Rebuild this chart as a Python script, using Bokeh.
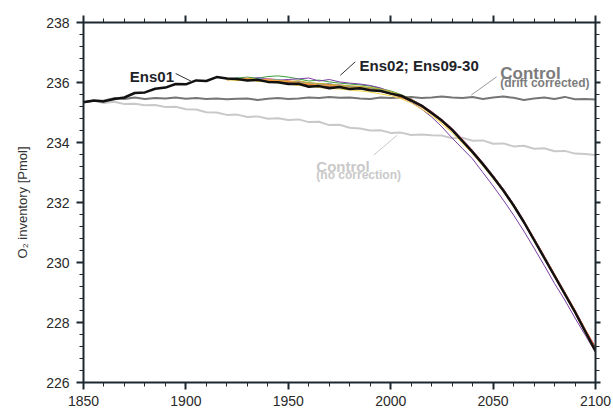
from bokeh.plotting import figure
from bokeh.models import Range1d, LinearAxis, SingleIntervalTicker, ColumnDataSource
from bokeh.core.properties import value, field
from bokeh.embed import file_html
from bokeh.resources import INLINE

# ---------------- data ----------------
years = list(range(1850, 2101, 5))
ens_years = list(range(1920, 2101, 5))

ctrl_nc = [235.35, 235.39, 235.32, 235.36, 235.28, 235.29, 235.24, 235.25, 235.18, 235.19,
           235.11, 235.10, 235.01, 235.00, 234.92, 234.93, 234.85, 234.87, 234.79, 234.81,
           234.75, 234.77, 234.68, 234.69, 234.58, 234.59, 234.49, 234.47, 234.40, 234.41,
           234.32, 234.33, 234.25, 234.27, 234.24, 234.23, 234.14, 234.16, 234.06, 234.07,
           233.96, 233.97, 233.87, 233.89, 233.79, 233.81, 233.71, 233.72, 233.63, 233.62,
           233.58]

ctrl_dc = [235.35, 235.38, 235.40, 235.48, 235.45, 235.50, 235.45, 235.48, 235.47, 235.50,
           235.46, 235.48, 235.45, 235.47, 235.44, 235.46, 235.47, 235.42, 235.46, 235.48,
           235.45, 235.47, 235.50, 235.48, 235.52, 235.49, 235.50, 235.47, 235.45, 235.50,
           235.48, 235.50, 235.52, 235.48, 235.50, 235.53, 235.50, 235.48, 235.52, 235.45,
           235.50, 235.53, 235.49, 235.42, 235.47, 235.50, 235.45, 235.52, 235.44, 235.45,
           235.43]

ens01 = [235.34, 235.40, 235.37, 235.45, 235.50, 235.65, 235.67, 235.79, 235.83, 235.95,
         235.94, 236.07, 236.05, 236.18, 236.13, 236.12, 236.07, 236.09, 236.02, 236.01,
         235.95, 235.96, 235.86, 235.88, 235.81, 235.85, 235.78, 235.81, 235.74, 235.72,
         235.63, 235.56, 235.40, 235.23, 234.98, 234.73, 234.42, 234.05, 233.68, 233.28,
         232.85, 232.40, 231.90, 231.35, 230.75, 230.15, 229.55, 228.95, 228.35, 227.70,
         227.05]

ens_green = [236.12, 236.15, 236.18, 236.14, 236.20, 236.22, 236.18, 236.12, 236.05, 236.08,
             236.02, 235.98, 235.95, 235.92, 235.88, 235.80, 235.72, 235.60, 235.45, 235.25,
             235.02, 234.75, 234.45, 234.10, 233.72, 233.30, 232.88, 232.42, 231.93, 231.38,
             230.80, 230.20, 229.60, 229.00, 228.38, 227.75, 227.12]
ens_purple = [236.12, 236.14, 236.10, 236.16, 236.12, 236.08, 236.10, 236.12, 236.15, 236.05,
              236.10, 236.02, 235.98, 235.95, 235.90, 235.82, 235.68, 235.52, 235.35, 235.12,
              234.85, 234.52, 234.15, 233.80, 233.45, 233.00, 232.55, 232.08, 231.58, 231.05,
              230.48, 229.90, 229.30, 228.75, 228.15, 227.58, 227.00]
ens_red = [236.10, 236.12, 236.08, 236.11, 236.06, 236.03, 236.00, 235.98, 235.92, 235.95,
           235.88, 235.86, 235.85, 235.83, 235.80, 235.74, 235.66, 235.56, 235.44, 235.25,
           235.02, 234.75, 234.46, 234.10, 233.72, 233.32, 232.90, 232.45, 231.95, 231.40,
           230.82, 230.22, 229.62, 229.02, 228.42, 227.78, 227.18]
ens_orange = [236.08, 236.11, 236.13, 236.09, 236.10, 236.06, 236.03, 236.00, 235.96, 235.92,
              235.90, 235.88, 235.84, 235.85, 235.78, 235.73, 235.66, 235.55, 235.40, 235.20,
              234.98, 234.70, 234.40, 234.03, 233.66, 233.26, 232.84, 232.38, 231.88, 231.33,
              230.74, 230.14, 229.54, 228.93, 228.32, 227.68, 227.02]
ens_orange2 = [236.14, 236.09, 236.12, 236.05, 236.08, 236.04, 236.06, 235.98, 235.94, 235.90,
               235.93, 235.86, 235.82, 235.80, 235.79, 235.70, 235.62, 235.50, 235.38, 235.18,
               234.95, 234.68, 234.38, 234.02, 233.64, 233.25, 232.82, 232.37, 231.87, 231.32,
               230.73, 230.12, 229.52, 228.91, 228.30, 227.66, 227.00]
ens_yellow = [236.10, 236.06, 236.08, 236.04, 236.02, 235.98, 235.95, 235.90, 235.88, 235.83,
              235.80, 235.78, 235.75, 235.72, 235.68, 235.62, 235.56, 235.46, 235.32, 235.12,
              234.90, 234.62, 234.33, 233.98, 233.62, 233.22, 232.80, 232.36, 231.86, 231.32,
              230.74, 230.15, 229.56, 228.97, 228.38, 227.74, 227.10]
ens_blue = [236.11, 236.13, 236.10, 236.08, 236.11, 236.05, 236.02, 236.04, 235.97, 235.94,
            235.96, 235.90, 235.87, 235.84, 235.82, 235.76, 235.68, 235.57, 235.43, 235.23,
            235.00, 234.73, 234.43, 234.07, 233.70, 233.30, 232.87, 232.42, 231.92, 231.37,
            230.78, 230.18, 229.57, 228.97, 228.36, 227.72, 227.08]
ens_pink = [236.09, 236.12, 236.15, 236.10, 236.13, 236.10, 236.05, 236.02, 236.00, 235.95,
            235.92, 235.93, 235.88, 235.86, 235.82, 235.77, 235.69, 235.58, 235.45, 235.26,
            235.04, 234.77, 234.48, 234.12, 233.74, 233.34, 232.91, 232.45, 231.95, 231.40,
            230.81, 230.21, 229.60, 228.99, 228.38, 227.73, 227.08]
ens_brown = [236.13, 236.08, 236.06, 236.09, 236.05, 236.02, 235.99, 235.95, 235.90, 235.88,
             235.86, 235.83, 235.82, 235.78, 235.75, 235.70, 235.63, 235.52, 235.39, 235.19,
             234.97, 234.69, 234.39, 234.03, 233.66, 233.26, 232.83, 232.38, 231.88, 231.33,
             230.75, 230.15, 229.55, 228.95, 228.34, 227.70, 227.04]
ens_cyan = [236.10, 236.14, 236.11, 236.13, 236.08, 236.09, 236.04, 236.00, 235.98, 235.93,
            235.90, 235.89, 235.86, 235.84, 235.81, 235.75, 235.67, 235.56, 235.42, 235.22,
            234.99, 234.72, 234.42, 234.06, 233.69, 233.29, 232.86, 232.41, 231.91, 231.36,
            230.77, 230.17, 229.57, 228.96, 228.36, 227.71, 227.06]
ens_olive = [236.12, 236.10, 236.14, 236.11, 236.07, 236.08, 236.03, 236.06, 235.99, 235.97,
             235.94, 235.91, 235.89, 235.87, 235.84, 235.78, 235.70, 235.58, 235.44, 235.24,
             235.01, 234.74, 234.44, 234.08, 233.71, 233.31, 232.88, 232.43, 231.93, 231.38,
             230.79, 230.19, 229.59, 228.98, 228.37, 227.73, 227.09]

members = [
    (ens_green, "#3a9d3a"), (ens_purple, "#7a3fa5"), (ens_red, "#d8352a"),
    (ens_blue, "#3d6fc2"), (ens_pink, "#e07ab8"), (ens_brown, "#8c5a3c"),
    (ens_cyan, "#2bb0c8"), (ens_olive, "#b8b820"), (ens_yellow, "#f0d54a"),
    (ens_orange2, "#e8822a"), (ens_orange, "#f5a040"),
]

# annotation texts (drawn as text glyphs)
note_text = ["Ens01", "Ens02; Ens09-30", "Control", "(drift corrected)", "Control", "(no correction)"]
note_x = [1872.6, 1984.8, 2053.5, 2053.5, 1963.7, 1963.7]
note_y = [236.21, 236.58, 236.30, 235.98, 233.19, 232.91]
note_color = ["#1e2328", "#1e2328", "#7c7c7c", "#7c7c7c", "#c9c9c9", "#c9c9c9"]
note_size = ["15px", "15px", "17px", "12px", "15px", "12px"]

# leader lines
lead_xs = [[1895.0, 1903.2], [1982.7, 1975.4], [2051.7, 2039.3], [1991.7, 2003.1]]
lead_ys = [[236.30, 236.02], [236.69, 236.24], [236.19, 235.58], [233.58, 234.24]]
lead_color = ["#333333", "#333333", "#9a9a9a", "#c9c9c9"]

# ---------------- sources ----------------
xs = [years, years]
ys = [ctrl_nc, ctrl_dc]
cols = ["#c9c9c9", "#767676"]
wids = [2, 2]
for vals, col in members:
    xs.append(ens_years)
    ys.append(vals)
    cols.append(col)
    wids.append(1)
xs.append(years)
ys.append(ens01)
cols.append("#111111")
wids.append(2.5)
src = ColumnDataSource(dict(xs=xs, ys=ys, color=cols, width=wids))
lead_src = ColumnDataSource(dict(xs=lead_xs, ys=lead_ys, color=lead_color))
note_src = ColumnDataSource(dict(x=note_x, y=note_y, text=note_text, color=note_color, size=note_size))

# ---------------- figure ----------------
AX = "#1c2830"
FONT = "Liberation Sans"

p = figure(frame_width=512, frame_height=360,
           x_range=Range1d(1850, 2100), y_range=Range1d(226, 238),
           x_axis_location=None, y_axis_location=None,
           min_border_left=83, min_border_top=22, min_border_right=18, min_border_bottom=29,
           output_backend="svg", toolbar_location=None)
p.grid.visible = False
p.outline_line_color = None


def style(ax, tick_major=7, tick_minor=4):
    ax.axis_line_color = AX
    ax.axis_line_width = 2
    ax.major_tick_line_color = AX
    ax.major_tick_line_width = 2
    ax.major_tick_out = tick_major
    ax.major_tick_in = 0
    ax.minor_tick_line_color = AX
    ax.minor_tick_line_width = 1
    ax.minor_tick_out = tick_minor
    ax.minor_tick_in = 0


xb = LinearAxis(ticker=SingleIntervalTicker(interval=50, num_minor_ticks=5))
style(xb)
xb.major_label_text_font = FONT
xb.major_label_text_font_size = "14px"
xb.major_label_text_color = "#2a2a2a"
xb.major_label_standoff = 6
p.add_layout(xb, "below")

xa = LinearAxis(ticker=SingleIntervalTicker(interval=50, num_minor_ticks=5))
style(xa)
xa.major_label_text_color = None
xa.major_label_standoff = 0
p.add_layout(xa, "above")

yl = LinearAxis(ticker=SingleIntervalTicker(interval=2, num_minor_ticks=5),
                axis_label="O\u2082 inventory [Pmol]")
style(yl)
yl.major_label_text_font = FONT
yl.major_label_text_font_size = "14px"
yl.major_label_text_color = "#2a2a2a"
yl.major_label_standoff = 7
yl.axis_label_text_font = FONT
yl.axis_label_text_font_style = "normal"
yl.axis_label_text_font_size = "13px"
yl.axis_label_text_color = "#333333"
yl.axis_label_standoff = 13
p.add_layout(yl, "left")

yr = LinearAxis(ticker=SingleIntervalTicker(interval=2, num_minor_ticks=5))
style(yr, tick_major=5, tick_minor=4)
yr.major_label_text_color = None
yr.major_label_standoff = 0
p.add_layout(yr, "right")

# ---------------- lines and notes (all glyphs) ----------------
p.multi_line(xs="xs", ys="ys", line_color="color", line_width="width", source=src)
p.multi_line(xs="xs", ys="ys", line_color="color", line_width=1, source=lead_src)
p.text(x="x", y="y", text="text", text_color="color", text_font_size=field("size"),
       text_font=value(FONT), text_font_style="bold", text_baseline="alphabetic",
       source=note_src)

open("out.html", "w").write(file_html(p, INLINE))
